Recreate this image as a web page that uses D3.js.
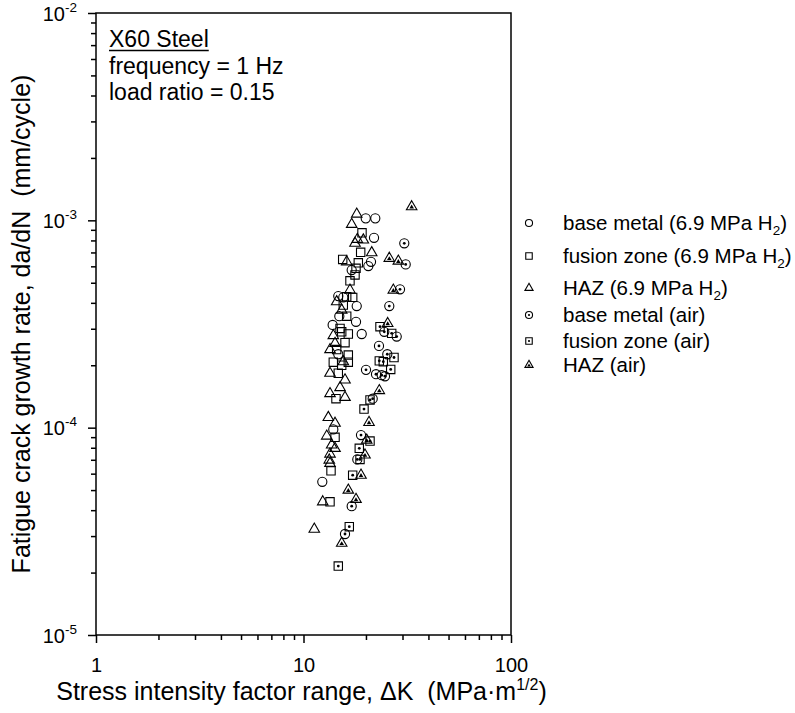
<!DOCTYPE html>
<html><head><meta charset="utf-8">
<script src="https://cdn.jsdelivr.net/npm/d3@7"></script>
<style>
body{margin:0;background:#fff}
svg{display:block}
text{font-family:"Liberation Sans",Arial,Helvetica,sans-serif;fill:#000}
</style>
</head><body>
<svg id="c" width="795" height="713"></svg>
<script>
// ---------- data ----------
const xTickValues = [1, 10, 100];
const xTickLabels = ["1", "10", "100"];
const yTickValues = [1e-5, 1e-4, 1e-3, 1e-2];
const yTickExponents = ["-5", "-4", "-3", "-2"];

const seriesNames = [
  "base metal (6.9 MPa H2)", "fusion zone (6.9 MPa H2)", "HAZ (6.9 MPa H2)",
  "base metal (air)", "fusion zone (air)", "HAZ (air)"
];

const baseMetalH2 = [
  [19.95,1.022e-3],[22.18,1.022e-3],[21.87,8.24e-4],[21.15,6.31e-4],[20.53,6.02e-4],
  [17.07,5.76e-4],[14.71,4.31e-4],[15.55,4.25e-4],[18.05,3.86e-4],[14.88,3.45e-4],
  [17.91,3.24e-4],[13.82,3.13e-4],[19.08,2.83e-4],[14.71,2.26e-4],[13.92,9.81e-5],
  [12.32,5.48e-5]
];
const fusionZoneH2 = [
  [19.14,8.71e-4],[18.86,7.01e-4],[15.45,6.48e-4],[18.37,6.24e-4],[17.91,5.87e-4],
  [17.71,5.45e-4],[16.75,5.11e-4],[16.15,4.28e-4],[17.26,4.25e-4],[15.55,3.90e-4],
  [16.15,3.45e-4],[15.00,3.01e-4],[16.44,2.83e-4],[15.85,2.57e-4],[15.28,2.90e-4],
  [14.45,2.38e-4],[16.44,2.24e-4],[13.92,2.07e-4],[15.28,2.00e-4],[16.44,2.07e-4],
  [14.71,1.83e-4],[14.34,1.38e-4],[14.19,8.98e-5],[13.57,6.19e-5],[13.42,4.39e-5]
];
const hazH2 = [
  [18.05,1.072e-3],[17.07,9.56e-4],[18.17,8.10e-4],[19.42,8.04e-4],[17.71,7.75e-4],
  [21.32,6.98e-4],[16.15,6.31e-4],[16.75,4.61e-4],[14.45,4.05e-4],[15.28,3.69e-4],
  [13.92,2.78e-4],[14.19,2.55e-4],[13.42,2.38e-4],[15.55,2.08e-4],[13.42,1.83e-4],
  [15.85,1.70e-4],[15.00,1.56e-4],[13.42,1.46e-4],[15.85,1.40e-4],[13.17,1.12e-4],
  [14.19,1.05e-4],[12.94,9.11e-5],[13.67,8.25e-5],[14.19,7.95e-5],[13.42,7.46e-5],
  [13.31,6.98e-5],[13.42,6.73e-5],[12.38,4.39e-5],[11.27,3.24e-5]
];
const baseMetalAir = [
  [30.60,7.75e-4],[31.08,6.13e-4],[29.18,4.65e-4],[25.91,3.86e-4],[24.51,2.90e-4],
  [28.13,2.75e-4],[23.11,2.48e-4],[25.34,2.26e-4],[20.01,1.90e-4],[22.36,1.81e-4],
  [23.82,1.79e-4],[24.70,1.77e-4],[21.55,1.38e-4],[18.93,9.21e-5],[18.17,7.03e-5],
  [17.07,4.18e-5],[15.85,3.07e-5]
];
const fusionZoneAir = [
  [23.37,3.07e-4],[26.61,2.85e-4],[27.30,2.18e-4],[23.19,2.10e-4],[24.24,2.08e-4],
  [26.32,1.91e-4],[20.92,1.36e-4],[19.57,1.23e-4],[20.92,8.62e-5],[18.57,7.95e-5],
  [18.72,7.03e-5],[17.26,5.90e-5],[16.62,3.33e-5],[14.71,2.15e-5]
];
const hazAir = [
  [33.21,1.163e-3],[25.91,6.56e-4],[28.64,6.36e-4],[27.09,4.61e-4],[25.45,3.18e-4],
  [23.19,1.51e-4],[20.69,1.06e-4],[20.17,8.71e-5],[19.79,7.38e-5],[18.93,5.90e-5],
  [16.44,5.00e-5],[17.91,4.51e-5],[15.28,2.77e-5]
];

// ---------- layout ----------
const svg = d3.select("#c");
const L = 96, R = 511, T = 13, B = 635;
const FONT = '"Liberation Sans",Arial,sans-serif';
const x = d3.scaleLog().domain([1, 100]).range([L, R]);
const y = d3.scaleLog().domain([1e-5, 1e-2]).range([B, T]);

const xMinor = x.ticks().filter(v => !xTickValues.some(t => Math.abs(t - v) < 1e-9));
const yMinor = y.ticks().filter(v => !yTickValues.some(t => Math.abs(t / v - 1) < 1e-6));

function styleAxis(g) {
  g.select(".domain").remove();
  g.selectAll("line").attr("stroke", "#000").attr("stroke-width", 1.5);
}

svg.append("g").attr("transform", `translate(0,${B})`)
  .call(d3.axisBottom(x).tickValues(xMinor).tickSize(5).tickFormat(""))
  .call(styleAxis);
const xMaj = svg.append("g").attr("transform", `translate(0,${B})`)
  .call(d3.axisBottom(x).tickValues(xTickValues).tickSize(8).tickFormat((d, i) => xTickLabels[i]))
  .call(styleAxis);
xMaj.selectAll("text").attr("font-size", 20).attr("dy", null).attr("y", 37)
  .attr("font-family", FONT);

svg.append("g").attr("transform", `translate(${L},0)`)
  .call(d3.axisLeft(y).tickValues(yMinor).tickSize(5).tickFormat(""))
  .call(styleAxis);
const yMaj = svg.append("g").attr("transform", `translate(${L},0)`)
  .call(d3.axisLeft(y).tickValues(yTickValues).tickSize(8).tickFormat(""))
  .call(styleAxis);
yMaj.selectAll(".tick").each(function (d, i) {
  const t = d3.select(this).append("text")
    .attr("x", -19).attr("y", 7).attr("text-anchor", "end")
    .attr("font-size", 20).attr("font-family", FONT);
  t.append("tspan").text("10");
  t.append("tspan").attr("font-size", 13.5).attr("dy", -9).text(yTickExponents[i]);
});

svg.append("rect").attr("x", L).attr("y", T).attr("width", R - L).attr("height", B - T)
  .attr("fill", "none").attr("stroke", "#000").attr("stroke-width", 1.5);

// ---------- markers ----------
const sym = {
  circle: d3.symbol().type(d3.symbolCircle),
  square: d3.symbol().type(d3.symbolSquare),
  triangle: d3.symbol().type(d3.symbolTriangle)
};
const styles = [
  {shape: "circle", air: false}, {shape: "square", air: false}, {shape: "triangle", air: false},
  {shape: "circle", air: true}, {shape: "square", air: true}, {shape: "triangle", air: true}
];
const sizes = {circle: 66, square: 70, triangle: 48};

function drawMarker(g, st, scale) {
  g.append("path").attr("d", sym[st.shape].size(sizes[st.shape] * scale)())
    .attr("fill", "none").attr("stroke", "#000").attr("stroke-width", 1.1);
  if (st.air) {
    if (st.shape === "triangle") {
      g.append("path").attr("d", sym.triangle.size(9 * scale)()).attr("transform", "translate(0,0.5)")
        .attr("fill", "#000");
    } else {
      g.append("circle").attr("r", 1.4 * Math.sqrt(scale)).attr("fill", "#000");
    }
  }
}

const allSeries = [baseMetalH2, fusionZoneH2, hazH2, baseMetalAir, fusionZoneAir, hazAir];
const plot = svg.append("g");
allSeries.forEach((data, si) => {
  plot.append("g").selectAll("g").data(data).join("g")
    .attr("transform", d => `translate(${x(d[0])},${y(d[1])})`)
    .each(function () { drawMarker(d3.select(this), styles[si], 1); });
});

// ---------- legend ----------
const legendY = [223, 256, 288, 315, 341, 365];
const leg = svg.append("g");
seriesNames.forEach((name, i) => {
  const g = leg.append("g").attr("transform", `translate(529,${legendY[i]})`);
  drawMarker(g, styles[i], 0.6);
  const t = leg.append("text").attr("x", 563).attr("y", legendY[i] + 7).attr("font-size", 20.5);
  const m = name.match(/^(.*H)2\)$/);
  if (m) {
    t.append("tspan").text(m[1]);
    t.append("tspan").attr("font-size", 13.5).attr("dy", 5).text("2");
    t.append("tspan").attr("dy", -5).text(")");
  } else {
    t.text(name);
  }
});

// ---------- annotation ----------
const ann = svg.append("g");
const title = ann.append("text").attr("x", 109).attr("y", 47).attr("font-size", 23).text("X60 Steel");
const tw = title.node().getComputedTextLength();
ann.append("line").attr("x1", 109).attr("x2", 109 + tw).attr("y1", 50.5).attr("y2", 50.5)
  .attr("stroke", "#000").attr("stroke-width", 1.5);
ann.append("text").attr("x", 109).attr("y", 74).attr("font-size", 23).text("frequency = 1 Hz");
ann.append("text").attr("x", 109).attr("y", 100).attr("font-size", 23).text("load ratio = 0.15");

// ---------- axis titles ----------
const xt = svg.append("text").attr("x", (L + R) / 2 - 2).attr("y", 700).attr("text-anchor", "middle")
  .attr("font-size", 25);
xt.append("tspan").text("Stress intensity factor range, \u0394K\u00A0\u00A0(MPa\u00B7m");
xt.append("tspan").attr("font-size", 16).attr("dy", -10).text("1/2");
xt.append("tspan").attr("dy", 10).text(")");

svg.append("text").attr("transform", `translate(30,${(T + B) / 2}) rotate(-90)`)
  .attr("text-anchor", "middle").attr("font-size", 25)
  .text("Fatigue crack growth rate, da/dN\u00A0\u00A0(mm/cycle)");
</script>
</body></html>
